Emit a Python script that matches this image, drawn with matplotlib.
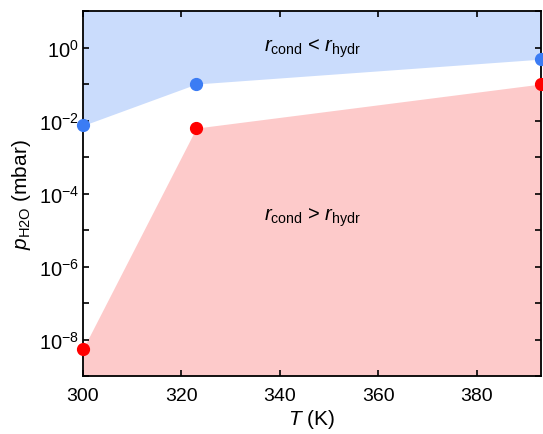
import matplotlib
matplotlib.use('Agg')
import matplotlib.pyplot as plt
import numpy as np
from matplotlib.ticker import FixedLocator, FuncFormatter

# 数据
T = [300, 323, 393]
p_upper = [7.3e-3, 0.1, 0.48]   # 蓝点 r_cond < r_hydr 边界
p_lower = [5.5e-9, 6.2e-3, 0.1]  # 红点 r_cond > r_hydr 边界

plt.rcParams['font.family'] = ['Liberation Sans', 'DejaVu Sans']
plt.rcParams['mathtext.fontset'] = 'custom'
plt.rcParams['mathtext.rm'] = 'Liberation Sans'
plt.rcParams['mathtext.it'] = 'Liberation Sans:italic'
plt.rcParams['mathtext.bf'] = 'Liberation Sans:bold'

fig = plt.figure(figsize=(5.43, 4.35), dpi=100)
ax = fig.add_axes([83 / 543, 1 - 377 / 435, 458 / 543, 365 / 435])

ymin, ymax = 1e-9, 1e1
ax.fill_between(T, p_upper, ymax, color='#cadcfc', linewidth=0)
ax.fill_between(T, ymin, p_lower, color='#fdcaca', linewidth=0)
ax.plot(T, p_upper, 'o', color='#3b7cf4', markersize=8.5, clip_on=False, zorder=5)
ax.plot(T, p_lower, 'o', color='#ff0000', markersize=8.5, clip_on=False, zorder=5)

ax.set_yscale('log')
ax.set_xlim(300, 393)
ax.set_ylim(ymin, ymax)

ax.xaxis.set_major_locator(FixedLocator([300, 320, 340, 360, 380]))
ax.yaxis.set_major_locator(FixedLocator([10.0 ** k for k in range(-9, 2)]))
ax.yaxis.set_major_formatter(FuncFormatter(
    lambda v, pos: r'$10^{%d}$' % round(np.log10(v)) if round(np.log10(v)) % 2 == 0 else ''))
ax.yaxis.set_minor_locator(FixedLocator([]))

ax.tick_params(which='both', direction='in', top=True, right=True, labelsize=14,
               length=4, width=1.2)
ax.tick_params(axis='x', pad=8)
ax.tick_params(axis='y', pad=3, labelsize=14.5)
for s in ax.spines.values():
    s.set_linewidth(1.3)

ax.set_xlabel(r'$T$ (K)', fontsize=15, labelpad=2)
ax.set_ylabel(r'$p_{\mathrm{H2O}}$ (mbar)', fontsize=15, labelpad=4)

ax.text(0.5, 0.9, r'$r_{\mathrm{cond}}$ < $r_{\mathrm{hydr}}$', transform=ax.transAxes,
        ha='center', va='center', fontsize=14.5)
ax.text(0.5, 0.435, r'$r_{\mathrm{cond}}$ > $r_{\mathrm{hydr}}$', transform=ax.transAxes,
        ha='center', va='center', fontsize=14.5)

fig.savefig('out.png', dpi=100)
